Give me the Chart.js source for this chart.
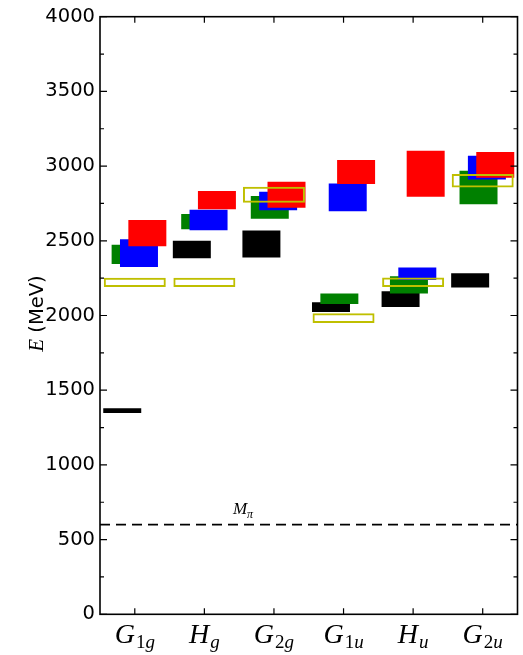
<!DOCTYPE html>
<html>
<head>
<meta charset="utf-8">
<script src="https://cdn.jsdelivr.net/npm/chart.js@4/dist/chart.umd.min.js"></script>
<style>
  html, body { margin: 0; padding: 0; background: #ffffff; }
  #wrap { width: 523px; height: 655px; }
</style>
</head>
<body>
<div id="wrap"><canvas id="spectrum" width="523" height="655"></canvas></div>
<script>
// Irrep channels along x: main letter and subscript
const irrepBase = ['G', 'H', 'G', 'G', 'H', 'G'];
const irrepSub  = ['1g', 'g', '2g', '1u', 'u', '2u'];
const categories = irrepBase.map((b, i) => b + irrepSub[i]);

// Energy bands [low, high] in MeV for each irrep
const levelsBlack  = [[1348, 1380], [2384, 2500], [2389, 2569], [2024, 2089], [2057, 2162], [2187, 2282]];
const levelsGreen  = [[2344, 2473], [2577, 2680], [2647, 2800], [2077, 2147], [2147, 2262], [2744, 2969]];
const levelsBlue   = [[2324, 2511], [2571, 2707], [2704, 2829], [2697, 2884], [2237, 2322], [2911, 3069]];
const levelsRed    = [[2464, 2640], [2711, 2833], [2722, 2895], [2880, 3040], [2795, 3102], [2922, 3095]];
const levelsYellow = [[2190, 2252], [2190, 2252], [2755, 2862], [1950, 2015], [2190, 2254], [2857, 2947]];

// Energy axis
const yMin = 0;
const yMax = 4000;
const yMajorStep = 500;
const yMinorStep = 250;

// Pion mass reference line (MeV)
const pionMass = 600;

const serif = '"Liberation Serif", "DejaVu Serif", serif';
const sans = '"DejaVu Sans", sans-serif';

// Overlapping offset boxes inside each irrep column
const groupedBox = {
  type: 'bar',
  grouped: true,
  categoryPercentage: 0.481,
  barPercentage: 4.54,
  borderWidth: 0
};

// Draw the datasets in index order so later series sit on top
const layerOrder = {
  id: 'layerOrder',
  beforeDatasetDraw() { return false; },
  afterDatasetsDraw(chart) {
    const a = chart.chartArea;
    const ctx = chart.ctx;
    const ys = chart.scales.y;
    ctx.save();
    ctx.beginPath();
    ctx.rect(a.left, a.top, a.right - a.left, a.bottom - a.top);
    ctx.clip();

    // dashed pion-mass threshold across the whole plot
    const py = ys.getPixelForValue(pionMass);
    ctx.strokeStyle = '#000000';
    ctx.lineWidth = 1.6;
    ctx.setLineDash([10, 6]);
    ctx.beginPath();
    ctx.moveTo(a.left, py);
    ctx.lineTo(a.right, py);
    ctx.stroke();
    ctx.setLineDash([]);

    chart.data.datasets.forEach((d, i) => {
      if (chart.isDatasetVisible(i)) chart.getDatasetMeta(i).controller.draw();
    });
    ctx.restore();
  }
};

// Axis frame, inward ticks, math-style labels
const frameAndLabels = {
  id: 'frameAndLabels',
  afterDraw(chart) {
    const ctx = chart.ctx;
    const a = chart.chartArea;
    const xs = chart.scales.x;
    const ys = chart.scales.y;
    ctx.save();

    // frame
    ctx.strokeStyle = '#000';
    ctx.lineWidth = 1.6;
    ctx.strokeRect(a.left, a.top, a.right - a.left, a.bottom - a.top);

    // y ticks on both sides
    ctx.lineWidth = 1.2;
    ctx.beginPath();
    for (let v = yMin; v <= yMax; v += yMinorStep) {
      const py = ys.getPixelForValue(v);
      const len = (v % yMajorStep === 0) ? 7 : 4;
      ctx.moveTo(a.left, py); ctx.lineTo(a.left + len, py);
      ctx.moveTo(a.right, py); ctx.lineTo(a.right - len, py);
    }
    // x ticks top and bottom
    categories.forEach((c, i) => {
      const px = xs.getPixelForValue(i);
      ctx.moveTo(px, a.bottom); ctx.lineTo(px, a.bottom - 6);
      ctx.moveTo(px, a.top); ctx.lineTo(px, a.top + 6);
    });
    ctx.stroke();

    ctx.fillStyle = '#000';
    ctx.textBaseline = 'alphabetic';
    ctx.textAlign = 'left';

    // x labels: italic letter with subscript (digits upright)
    const baseFont = 'italic 28px ' + serif;
    const subItalic = 'italic 19px ' + serif;
    const subUpright = '19px ' + serif;
    categories.forEach((c, i) => {
      const px = xs.getPixelForValue(i);
      ctx.font = baseFont;
      const wb = ctx.measureText(irrepBase[i]).width;
      const parts = irrepSub[i].split('').map(ch => {
        const f = /[0-9]/.test(ch) ? subUpright : subItalic;
        ctx.font = f;
        return { ch, f, w: ctx.measureText(ch).width };
      });
      const ws = parts.reduce((s, p) => s + p.w, 0);
      let x = px - (wb + 1 + ws) / 2;
      const base = a.bottom + 29;
      ctx.font = baseFont;
      ctx.fillText(irrepBase[i], x, base);
      x += wb + 1;
      parts.forEach(p => {
        ctx.font = p.f;
        ctx.fillText(p.ch, x, base + 5);
        x += p.w;
      });
    });

    // y title: E (MeV)
    ctx.save();
    const midY = (a.top + a.bottom) / 2 - 2;
    ctx.translate(43, midY);
    ctx.rotate(-Math.PI / 2);
    ctx.font = 'italic 21px ' + serif;
    const wE = ctx.measureText('E').width;
    ctx.font = '19.5px ' + sans;
    const wU = ctx.measureText(' (MeV)').width;
    const tx = -(wE + wU) / 2;
    ctx.font = 'italic 21px ' + serif;
    ctx.fillText('E', tx, 0);
    ctx.font = '19.5px ' + sans;
    ctx.fillText(' (MeV)', tx + wE, 0);
    ctx.restore();

    // pion mass label, placed between the second and third columns
    const lx = xs.getPixelForValue(1.41);
    const ly = ys.getPixelForValue(pionMass) - 11;
    ctx.font = 'italic 17px ' + serif;
    ctx.fillText('M', lx, ly);
    const wM = ctx.measureText('M').width;
    ctx.font = 'italic 12px ' + serif;
    ctx.fillText('\u03c0', lx + wM, ly + 4);

    ctx.restore();
  }
};

new Chart(document.getElementById('spectrum'), {
  type: 'bar',
  data: {
    labels: categories,
    datasets: [
      { ...groupedBox, label: 'black', data: levelsBlack, backgroundColor: '#000000' },
      { ...groupedBox, label: 'green', data: levelsGreen, backgroundColor: '#008000' },
      { ...groupedBox, label: 'blue',  data: levelsBlue,  backgroundColor: '#0000ff' },
      { ...groupedBox, label: 'red',   data: levelsRed,   backgroundColor: '#ff0000' },
      {
        type: 'bar', label: 'yellow', data: levelsYellow,
        grouped: false, categoryPercentage: 1, barPercentage: 0.891,
        backgroundColor: 'rgba(0,0,0,0)', borderColor: '#bfbf00',
        borderWidth: 2, borderSkipped: false
      }
    ]
  },
  options: {
    responsive: false,
    animation: false,
    events: [],
    layout: { padding: { top: 14.3, right: 5.5, left: 0, bottom: 0 } },
    plugins: { legend: { display: false }, tooltip: { enabled: false } },
    scales: {
      x: {
        type: 'category',
        offset: true,
        grid: { display: false, drawTicks: false },
        border: { display: false },
        ticks: { display: false },
        afterFit(s) { s.height = 40.7; }
      },
      y: {
        min: yMin, max: yMax,
        grid: { display: false, drawTicks: false },
        border: { display: false },
        ticks: {
          stepSize: yMajorStep, padding: 5, color: '#000000',
          font: { family: 'DejaVu Sans', size: 19.5 },
          callback: v => String(v)
        },
        afterFit(s) { s.width = 100; }
      }
    }
  },
  plugins: [layerOrder, frameAndLabels]
});
</script>
</body>
</html>
